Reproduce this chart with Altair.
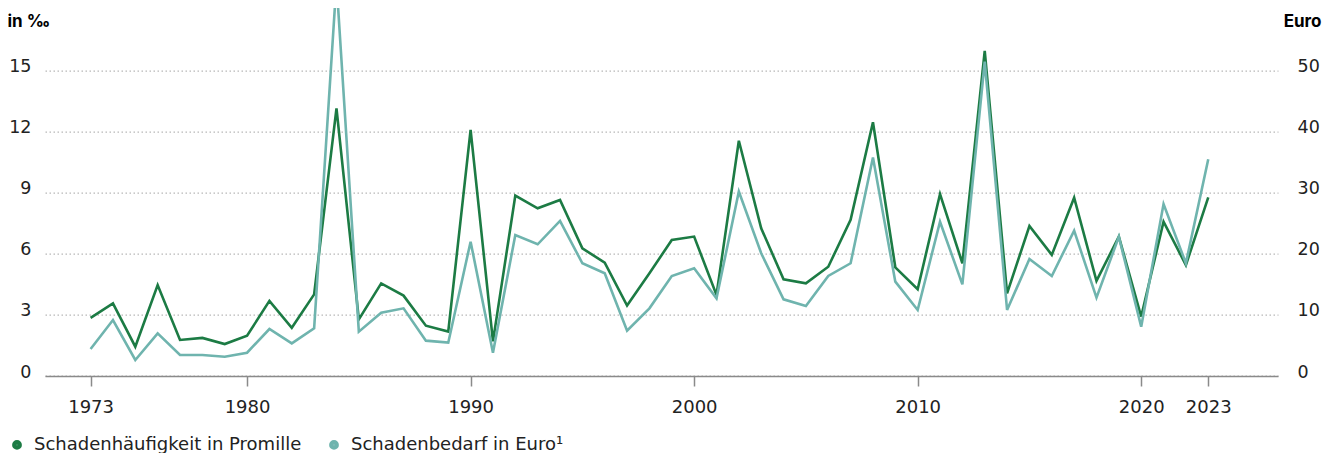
import altair as alt
import pandas as pd

years = list(range(1973, 2024))

# Schadenhäufigkeit in Promille (left axis, ‰)
haeufigkeit = [2.86, 3.57, 1.44, 4.47, 1.77, 1.87, 1.57, 1.98, 3.69, 2.37,
               4.01, 13.15, 2.78, 4.55, 3.95, 2.47, 2.18, 12.09, 1.70, 8.86,
               8.24, 8.65, 6.27, 5.57, 3.46, 5.05, 6.68, 6.85, 3.98, 11.56,
               7.26, 4.75, 4.55, 5.37, 7.67, 12.47, 5.34, 4.26, 8.94, 5.54,
               15.97, 4.06, 7.37, 5.95, 8.76, 4.67, 6.85, 2.92, 7.58, 5.45,
               8.78]

# Schadenbedarf in Euro (right axis)
bedarf = [4.42, 9.17, 2.62, 6.99, 3.44, 3.44, 3.16, 3.82, 7.70, 5.35,
          7.81, 64.5, 7.26, 10.37, 11.08, 5.79, 5.46, 22.0, 3.82, 23.1,
          21.57, 25.39, 18.46, 16.82, 7.42, 11.08, 16.38, 17.64, 12.72, 30.2,
          20.1, 12.56, 11.47, 16.38, 18.46, 35.8, 15.45, 10.81, 25.27, 15.0,
          51.5, 10.81, 19.16, 16.38, 23.8, 12.83, 22.8, 8.08, 28.17, 18.46,
          35.5]

series_names = ["Schadenhäufigkeit in Promille", "Schadenbedarf in Euro¹"]
series_colors = ["#1c7b44", "#6fb4ae"]
x_ticks = [1973, 1980, 1990, 2000, 2010, 2020, 2023]
left_ticks = [0, 3, 6, 9, 12, 15]
right_ticks = [0, 10, 20, 30, 40, 50]

df1 = pd.DataFrame({"Jahr": years, "Wert": haeufigkeit, "Reihe": series_names[0]})
df2 = pd.DataFrame({"Jahr": years, "Wert": bedarf, "Reihe": series_names[1]})

FONT = "DejaVu Sans"
TFONT = "Inter"

x_enc = alt.X("Jahr:Q",
              scale=alt.Scale(domain=[1970.96, 2026.12], nice=False, zero=False),
              axis=alt.Axis(values=x_ticks, format="d", title=None, grid=False,
                            domainColor="#8a8a8a", domainWidth=1.5,
                            tickColor="#8a8a8a", tickSize=10, tickWidth=1.5,
                            labelFontSize=18, labelFont=FONT, labelColor="#222222",
                            labelBaseline="alphabetic", labelPadding=26,
                            labelFlush=False))

color_enc = alt.Color("Reihe:N",
                      scale=alt.Scale(domain=series_names, range=series_colors),
                      legend=alt.Legend(title=None, orient="none", direction="horizontal",
                                        legendX=-37, legendY=365,
                                        symbolType="circle", symbolSize=28,
                                        symbolStrokeWidth=4.5, symbolOpacity=1,
                                        labelFont=FONT, labelFontSize=18,
                                        labelColor="#222222", labelOffset=8,
                                        columnPadding=20, padding=0, labelLimit=400))

left = alt.Chart(df1).mark_line(strokeWidth=2.6).encode(
    x=x_enc,
    y=alt.Y("Wert:Q",
            scale=alt.Scale(domain=[0, 15], nice=False),
            axis=alt.Axis(values=left_ticks, title="in ‰", orient="left",
                          titleAngle=0, titleAlign="left", titleBaseline="alphabetic",
                          titleX=-38, titleY=-44, titleFont=TFONT, titleFontSize=17,
                          titleFontWeight="bold", titleColor="#000000",
                          domain=False, ticks=False, labelPadding=14,
                          labelFont=FONT, labelFontSize=17.5, labelColor="#222222",
                          labelBaseline="alphabetic", labelOffset=1,
                          grid=True, gridDash=[1.5, 2.5], gridColor="#b8b8b8",
                          gridWidth=1.3)),
    color=color_enc,
)

right = alt.Chart(df2).mark_line(strokeWidth=2.6).encode(
    x=x_enc,
    y=alt.Y("Wert:Q",
            scale=alt.Scale(domain=[0, 50], nice=False),
            axis=alt.Axis(values=right_ticks, title="Euro", orient="right",
                          titleAngle=0, titleAlign="right", titleBaseline="alphabetic",
                          titleX=43, titleY=-44, titleFont=TFONT, titleFontSize=17,
                          titleFontWeight="bold", titleColor="#000000",
                          domain=False, ticks=False, labelPadding=19,
                          labelFont=FONT, labelFontSize=17.5, labelColor="#222222",
                          labelBaseline="alphabetic", labelOffset=1,
                          grid=False)),
    color=color_enc,
)

chart = alt.layer(left, right).resolve_scale(y="independent").properties(
    width=1233, height=305.3,
    autosize=alt.AutoSizeParams(type="none"),
    padding={"left": 37, "top": 62.7, "right": 51, "bottom": 77},
).configure_view(stroke=None)

chart.save("out.html", embed_options={"renderer": "svg", "actions": False})
